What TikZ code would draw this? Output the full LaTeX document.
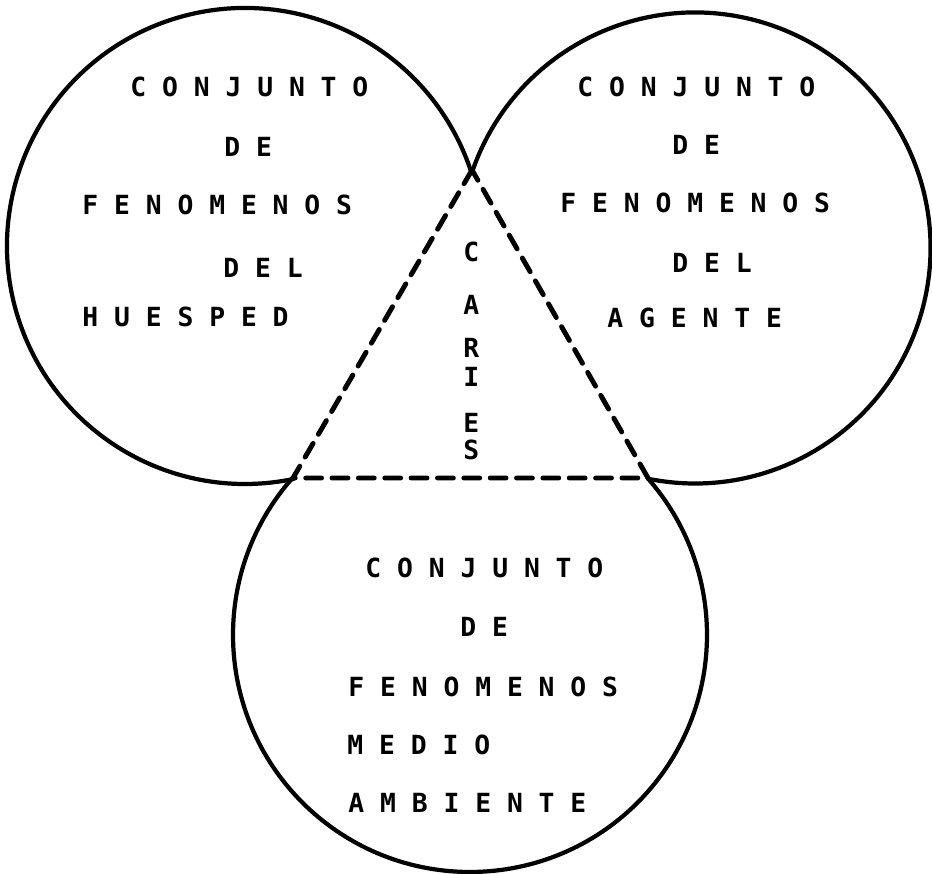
\documentclass[tikz,border=0pt]{standalone}
\usepackage{fontspec}
\newfontfamily\dotfont{DejaVu Sans Mono}

\begin{document}
\begin{tikzpicture}[x=0.02cm, y=0.02cm, line cap=round,
    rim/.style={line width=2.4pt},
    cut/.style={line width=2.8pt, dash pattern=on 9pt off 6pt},
    lbl/.style={anchor=base west, inner sep=0pt, font=\dotfont\bfseries\fontsize{15}{18}\selectfont}]
    \useasboundingbox (0,0) rectangle (932,874);
    % centres and meeting points
    \coordinate (L) at (245,628);
    \coordinate (R) at (695,626);
    \coordinate (B) at (470,239);
    \coordinate (T) at (472,704);
    \coordinate (P) at (293,396);
    \coordinate (Q) at (648,396);
    % outer arcs
    \draw[rim] (L) ++(18.5:238) arc[start angle=18.5, end angle=281.7, radius=238];
    \draw[rim] (R) ++(160.7:235.5) arc[start angle=160.7, end angle=-101.5, radius=235.5];
    \draw[rim] (B) ++(138.4:237) arc[start angle=138.4, end angle=401.4, radius=237];
    \draw[cut] (T) -- (P) -- (Q) -- cycle;
    % huesped
    \node[lbl] (h1) at (130,777) {C O N J U N T O};
    \node[lbl] (h2) at (224,717) {D E};
    \node[lbl] (h3) at (82,659) {F E N O M E N O S};
    \node[lbl] (h4) at (223,596) {D E L};
    \node[lbl] (h5) at (82,547) {H U E S P E D};
    % agente
    \node[lbl] (a1) at (577,777) {C O N J U N T O};
    \node[lbl] (a2) at (672,719) {D E};
    \node[lbl] (a3) at (560,661) {F E N O M E N O S};
    \node[lbl] (a4) at (672,601) {D E L};
    \node[lbl] (a5) at (607,546) {A G E N T E};
    % medio ambiente
    \node[lbl] (m1) at (365,296) {C O N J U N T O};
    \node[lbl] (m2) at (460,237) {D E};
    \node[lbl] (m3) at (348,177) {F E N O M E N O S};
    \node[lbl] (m4) at (347,119) {M E D I O};
    \node[lbl] (m5) at (348,61) {A M B I E N T E};
    % caries
    \foreach \ch/\yy [count=\i] in {C/612, A/559, R/516, I/487, E/441, S/414}
        \node[lbl] (car\i) at (463,\yy) {\ch};
\end{tikzpicture}
\end{document}
